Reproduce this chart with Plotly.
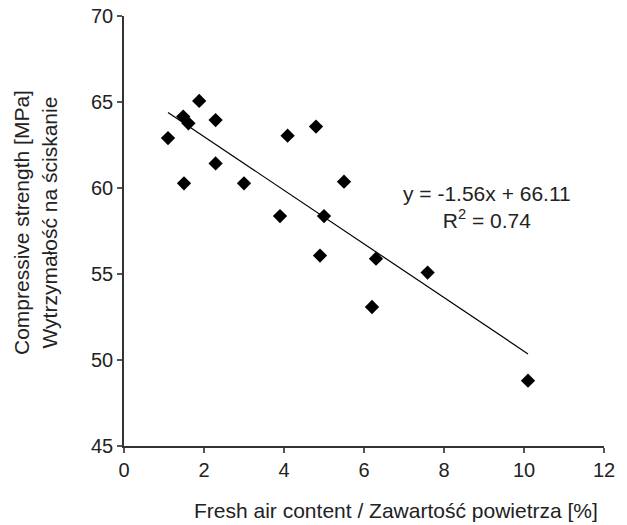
import plotly.graph_objects as go
import numpy as np

air = [1.1, 1.48, 1.61, 1.88, 2.29, 2.29, 1.5, 3.0, 4.09, 4.8, 5.5, 3.9, 5.0, 4.9, 6.2, 6.3, 7.59, 10.1]
strength = [62.9, 64.15, 63.76, 65.06, 63.95, 61.43, 60.27, 60.27, 63.04, 63.57, 60.37, 58.37, 58.37, 56.07, 53.08, 55.89, 55.08, 48.8]
slope = -1.56
intercept = 66.11
r2 = 0.74

x_ticks = [0, 2, 4, 6, 8, 10, 12]
y_ticks = [45, 50, 55, 60, 65, 70]

FAM = "Liberation Sans, Arial, sans-serif"
fnt = dict(family=FAM, size=20, color="#222222")
fnt_t = dict(family=FAM, size=21, color="#222222")

fig = go.Figure()
xl = np.array([min(air), max(air)])
fig.add_trace(go.Scatter(x=xl, y=slope * xl + intercept, mode="lines",
                         line=dict(color="black", width=1.2), hoverinfo="skip"))
fig.add_trace(go.Scatter(x=air, y=strength, mode="markers",
                         marker=dict(symbol="diamond", size=11, color="black")))

fig.add_annotation(x=9.07, y=58.9, xref="x", yref="y",
                   text=f"y = {slope:.2f}x + {intercept:.2f}<br>R<sup>2</sup> = {r2:.2f}",
                   showarrow=False, font=fnt_t, align="center",
                   xanchor="center", yanchor="middle")

fig.add_annotation(x=-0.185, y=0.519, xref="paper", yref="paper",
                   text="Compressive strength [MPa]<br>Wytrzymałość na ściskanie",
                   textangle=-90, showarrow=False, font=fnt_t,
                   align="center", xanchor="center", yanchor="middle")
fig.add_annotation(x=0.567, y=-0.149, xref="paper", yref="paper",
                   text="Fresh air content / Zawartość powietrza [%]",
                   showarrow=False, font=fnt_t,
                   xanchor="center", yanchor="middle")

axis_common = dict(showgrid=False, zeroline=False, showline=True, linecolor="#333333", linewidth=1.5,
                   ticks="outside", ticklen=5, tickcolor="#555555", tickwidth=1.5,
                   tickfont=fnt, mirror=False, automargin=False)
fig.update_xaxes(range=[0, 12], tickvals=x_ticks, **axis_common)
fig.update_yaxes(range=[45, 70], tickvals=y_ticks, **axis_common)

fig.update_layout(width=627, height=525, showlegend=False,
                  plot_bgcolor="white", paper_bgcolor="white",
                  margin=dict(l=124, r=23, t=16, b=79))
fig.write_html("out.html", config={"displayModeBar": False},
               post_script="document.body.style.margin='0';document.body.style.overflow='hidden';")
